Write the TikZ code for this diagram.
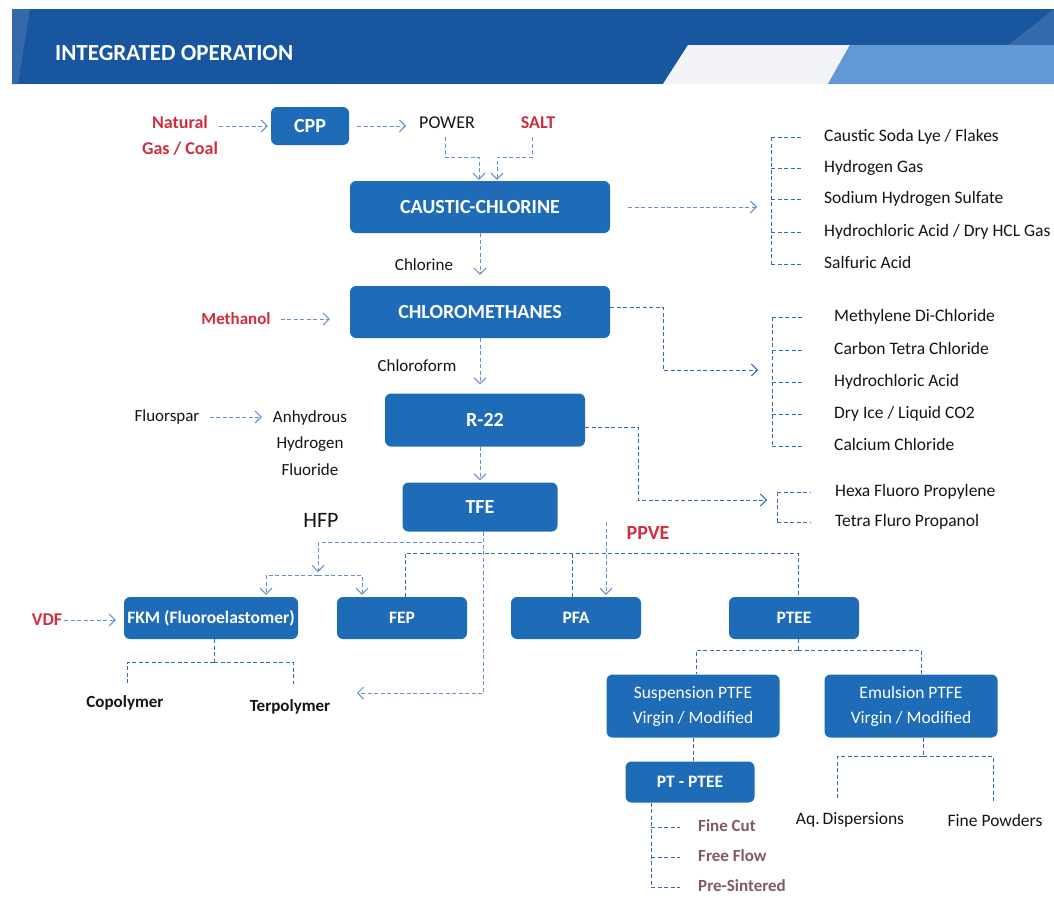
\documentclass[tikz,border=0pt]{standalone}
\usepackage{fontspec}
\setmainfont{Carlito}
\usetikzlibrary{arrows.meta}

\definecolor{boxblue}{RGB}{30,108,183}
\definecolor{hdrdark}{RGB}{24,86,160}
\definecolor{hdrlight}{RGB}{98,152,214}
\definecolor{hdrwhite}{RGB}{241,243,246}
\definecolor{linkblue}{RGB}{50,108,180}
\definecolor{arrowblue}{RGB}{100,144,210}
\definecolor{feedred}{RGB}{208,46,62}
\definecolor{gradeplum}{RGB}{128,88,108}
\definecolor{inkgray}{RGB}{20,20,20}

\begin{document}
\begin{tikzpicture}
  [x=1pt,y=-1pt,every node/.style={inner sep=0pt},
   unit/.style={rectangle,rounded corners=6pt,fill=boxblue,text=white,font=\fontsize{20}{24}\selectfont\bfseries},
   subunit/.style={unit,font=\fontsize{17.5}{21}\selectfont\bfseries},
   grade/.style={unit,align=center,font=\fontsize{17.5}{25}\selectfont},
   stream/.style={text=inkgray,align=center,font=\fontsize{17}{26.5}\selectfont},
   feed/.style={text=feedred,align=center,font=\fontsize{18}{26}\selectfont\bfseries},
   product/.style={anchor=west,text=inkgray,text height=12pt,text depth=4pt,font=\fontsize{17.5}{21}\selectfont},
   polymer/.style={text=inkgray,font=\fontsize{17}{21}\selectfont\bfseries},
   link/.style={draw=linkblue,line width=1pt,dash pattern=on 4pt off 2.5pt},
   flowarrow/.style={draw=arrowblue,line width=1pt,dash pattern=on 4pt off 2.5pt,-{Straight Barb[length=6pt,width=12pt]}}]
  \useasboundingbox (0,0) rectangle (1054,897);

  % header band
  \fill[hdrdark] (12,9) rectangle (1054,84);
  \fill[hdrdark!88!white] (12,9) -- (30,9) -- (18,84) -- (12,84) -- cycle;
  \fill[hdrdark!88!white] (1008,45) -- (1054,9) -- (1054,45) -- cycle;
  \fill[hdrwhite] (663,84) -- (688,45) -- (850,45) -- (828,84) -- cycle;
  \fill[hdrlight] (828,84) -- (850,45) -- (1054,45) -- (1054,84) -- cycle;
  \node[anchor=west,text=white,font=\fontsize{23}{27}\selectfont\bfseries] (title) at (55,53) {INTEGRATED OPERATION};

  % main chain
  \node[feed] (natgas) at (180,136) {Natural\\Gas / Coal};
  \node[unit,minimum width=78pt,minimum height=38pt] (cpp) at (310,126) {CPP};
  \node[stream,font=\fontsize{18}{22}\selectfont] (power) at (447,123) {POWER};
  \node[feed] (salt) at (538,123) {SALT};
  \node[unit,minimum width=260pt,minimum height=52pt] (cc) at (480,207) {CAUSTIC-CHLORINE};
  \node[stream] (chlorine) at (424,265) {Chlorine};
  \node[feed,font=\fontsize{17}{21}\selectfont\bfseries] (methanol) at (236,319) {Methanol};
  \node[unit,minimum width=260pt,minimum height=52pt] (cm) at (480,312) {CHLOROMETHANES};
  \node[stream] (chloroform) at (417,366) {Chloroform};
  \node[stream] (fluorspar) at (167,417) {Fluorspar};
  \node[stream] (ahf) at (310,443) {Anhydrous\\Hydrogen\\Fluoride};
  \node[unit,minimum width=200pt,minimum height=53pt] (r22) at (485,420) {R-22};
  \node[unit,minimum width=155pt,minimum height=49pt] (tfe) at (480,507) {TFE};
  \node[stream,font=\fontsize{22}{26}\selectfont] (hfp) at (321,520) {HFP};
  \node[feed,font=\fontsize{20}{24}\selectfont\bfseries] (ppve) at (648,533) {PPVE};
  \node[feed] (vdf) at (47,620) {VDF};

  % polymers
  \node[subunit,minimum width=174pt,minimum height=42pt] (fkm) at (211,618) {FKM (Fluoroelastomer)};
  \node[subunit,minimum width=130pt,minimum height=42pt] (fep) at (402,618) {FEP};
  \node[subunit,minimum width=130pt,minimum height=42pt] (pfa) at (576,618) {PFA};
  \node[subunit,minimum width=130pt,minimum height=42pt] (ptee) at (794,618) {PTEE};
  \node[polymer] (copo) at (125,703) {Copolymer};
  \node[polymer] (terpo) at (290,707) {Terpolymer};
  \node[grade,minimum width=173pt,minimum height=63pt] (susp) at (693,706) {Suspension PTFE\\Virgin / Modified};
  \node[grade,minimum width=173pt,minimum height=63pt] (emul) at (911,706) {Emulsion PTFE\\Virgin / Modified};
  \node[subunit,minimum width=129pt,minimum height=41pt] (ptptee) at (690,782) {PT - PTEE};
  \node[stream,font=\fontsize{17.5}{21}\selectfont] (aqdisp) at (850,820) {Aq.\,Dispersions};
  \node[stream,font=\fontsize{17.5}{21}\selectfont] (finepow) at (995,820) {Fine Powders};

  % product lists
  \node[product] (cc1) at (824,137) {Caustic Soda Lye / Flakes};
  \node[product] (cc2) at (824,168) {Hydrogen Gas};
  \node[product] (cc3) at (824,199) {Sodium Hydrogen Sulfate};
  \node[product] (cc4) at (824,232) {Hydrochloric Acid / Dry HCL Gas};
  \node[product] (cc5) at (824,264) {Salfuric Acid};
  \node[product] (cm1) at (834,317) {Methylene Di-Chloride};
  \node[product] (cm2) at (834,350) {Carbon Tetra Chloride};
  \node[product] (cm3) at (834,382) {Hydrochloric Acid};
  \node[product] (cm4) at (834,414) {Dry Ice / Liquid CO2};
  \node[product] (cm5) at (834,446) {Calcium Chloride};
  \node[product] (rf1) at (835,492) {Hexa Fluoro Propylene};
  \node[product] (rf2) at (835,522) {Tetra Fluro Propanol};
  \node[product,text=gradeplum,font=\fontsize{17}{21}\selectfont\bfseries] (pt1) at (698,827) {Fine Cut};
  \node[product,text=gradeplum,font=\fontsize{17}{21}\selectfont\bfseries] (pt2) at (698,857) {Free Flow};
  \node[product,text=gradeplum,font=\fontsize{17}{21}\selectfont\bfseries] (pt3) at (698,887) {Pre-Sintered};

  \coordinate (ccbar) at (771,208);
  \coordinate (cmbar) at (772,370);
  \coordinate (rfbar) at (777,500);
  \coordinate (ptbar) at (651,845);
  \coordinate (hfpjoin) at (318,575);
  \coordinate (terpin) at (357,693);
  \coordinate (busend) at (798,553);
  \coordinate (ppvein) at (606,522);

  % arrows of the main chain
  \draw[flowarrow,shorten <=1pt,shorten >=3pt] (natgas.north east |- cpp.west) -- (cpp.west);
  \draw[flowarrow,shorten <=8pt,shorten >=13pt] (cpp.east) -- (cpp.east -| power.west);
  \draw[flowarrow,shorten <=8pt,shorten >=1pt] ([xshift=-2pt]power.south) -- ++(0,28) -| ([xshift=-1pt]cc.north);
  \draw[flowarrow,shorten <=8pt,shorten >=1pt] ([xshift=-6pt]salt.south) -- ++(0,28) -| ([xshift=17pt]cc.north);
  \draw[flowarrow,shorten >=11pt] (cc.south) -- (cm.north);
  \draw[flowarrow,shorten >=9pt] (cm.south) -- (cm.south |- r22.north);
  \draw[flowarrow,shorten >=2pt] (r22.south -| tfe.north) -- (tfe.north);
  \draw[flowarrow,shorten <=10pt,shorten >=20pt] (methanol.east) -- (methanol.east -| cm.west);
  \draw[flowarrow,shorten <=10pt,shorten >=11pt] (fluorspar.east) -- (fluorspar.east -| ahf.west);
  \draw[flowarrow,shorten <=2pt,shorten >=8pt] (vdf.east) -- (vdf.east -| fkm.west);

  % by-products
  \draw[flowarrow,shorten <=18pt,shorten >=14pt] (cc.east) -- (cc.east -| ccbar);
  \draw[flowarrow,draw=linkblue,shorten >=14pt] ([yshift=5pt]cm.east) -- ++(53,0) |- (cmbar);
  \draw[flowarrow,draw=linkblue,shorten >=10pt] ([yshift=-7pt]r22.east) -- ++(53,0) |- (rfbar);
  \draw[link] (ccbar |- cc1.west) -- (ccbar |- cc5.west);
  \foreach \i in {1,...,5}
    \draw[link] (ccbar |- cc\i.west) -- ++(32,0);
  \draw[link] (cmbar |- cm1.west) -- (cmbar |- cm5.west);
  \foreach \i in {1,...,5}
    \draw[link] (cmbar |- cm\i.west) -- ++(31,0);
  \draw[link] (rfbar |- rf1.west) -- (rfbar |- rf2.west);
  \foreach \i in {1,2}
    \draw[link] (rfbar |- rf\i.west) -- ++(33,0);

  % TFE to the polymers
  \draw[flowarrow,shorten >=3pt] ([xshift=3.5pt]tfe.south) -- ++(0,11) -| (hfpjoin);
  \draw[flowarrow,shorten >=2pt] (hfpjoin) -| ([xshift=55pt]fkm.north);
  \draw[flowarrow,shorten >=2pt] (hfpjoin) -| ([xshift=-40pt]fep.north);
  \draw[flowarrow] ([xshift=3.5pt]tfe.south) |- (terpin);
  \draw[link] ([xshift=3pt]fep.north) |- (busend) -- ([xshift=4pt]ptee.north);
  \draw[link] ([xshift=-4pt]pfa.north) -- ++(0,-44);
  \draw[flowarrow,shorten >=2pt] (ppvein) -- (ppvein |- pfa.north);

  % grades
  \draw[link] ([xshift=3pt]fkm.south) -- ++(0,23) coordinate (fkmjoin);
  \draw[link,shorten >=12pt] (fkmjoin) -| ([xshift=2pt]copo.north);
  \draw[link,shorten >=16pt] (fkmjoin) -| ([xshift=3pt]terpo.north);
  \draw[link] ([xshift=4pt]ptee.south) -- ++(0,11) coordinate (pteejoin);
  \draw[link] (pteejoin) -| ([xshift=3pt]susp.north);
  \draw[link] (pteejoin) -| ([xshift=10pt]emul.north);
  \draw[link] (susp.south) -- (susp.south |- ptptee.north);
  \draw[link] (ptptee.south -| ptbar) -- (ptbar |- pt3.west);
  \foreach \i in {1,2,3}
    \draw[link] (ptbar |- pt\i.west) -- ++(29,0);
  \draw[link] ([xshift=12pt]emul.south) -- ++(0,19) coordinate (emuljoin);
  \draw[link,shorten >=13pt] (emuljoin) -| ([xshift=-13pt]aqdisp.north);
  \draw[link,shorten >=13pt] (emuljoin) -| ([xshift=-2pt]finepow.north);
\end{tikzpicture}
\end{document}
